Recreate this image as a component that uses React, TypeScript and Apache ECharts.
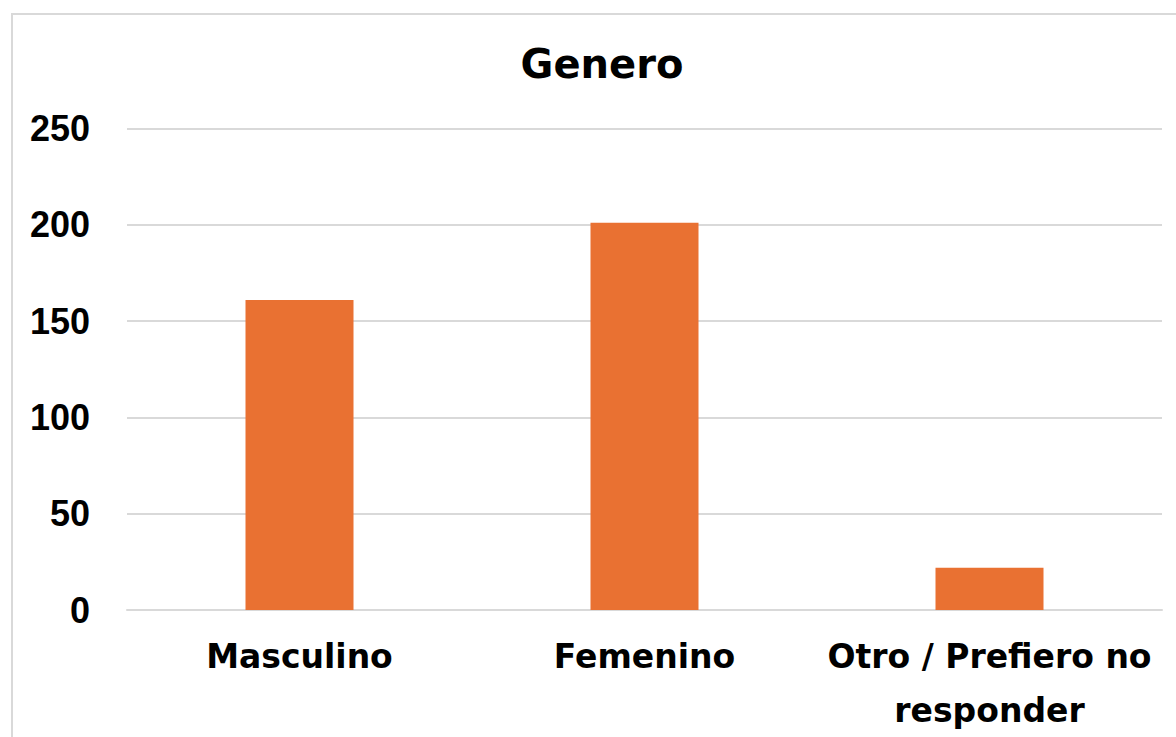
import React, { useEffect, useRef } from "react";
import * as echarts from "echarts";

const categories = ["Masculino", "Femenino", "Otro / Prefiero no responder"];
const values = [161, 201, 22];
const yTicks = [0, 50, 100, 150, 200, 250];
const chartTitle = "Genero";

function wrap(s: string, max: number): string {
  const words = s.split(" ");
  const lines: string[] = [];
  let cur = "";
  for (const w of words) {
    const next = cur ? cur + " " + w : w;
    if (next.length > max && cur) {
      lines.push(cur);
      cur = w;
    } else cur = next;
  }
  if (cur) lines.push(cur);
  return lines.join("\n");
}

export default function App() {
  const ref = useRef<HTMLDivElement>(null);
  useEffect(() => {
    if (!ref.current) return;
    const chart = echarts.init(ref.current, undefined, { renderer: "svg" });
    chart.setOption({
      animation: false,
      backgroundColor: "#ffffff",
      title: {
        text: chartTitle,
        left: 597,
        top: 39,
        textAlign: "center",
        textStyle: {
          fontFamily: "DejaVu Sans",
          fontWeight: "bold",
          fontSize: 40,
          color: "#000000",
        },
      },
      graphic: [
        {
          type: "rect",
          shape: { x: 12, y: 14, width: 1200, height: 800 },
          style: { fill: "none", stroke: "#d9d9d9", lineWidth: 2 },
          silent: true,
        },
      ],
      grid: { left: 127, right: 14, top: 128.5, bottom: 125, containLabel: false },
      xAxis: {
        type: "category",
        data: categories,
        axisLine: { show: true, lineStyle: { color: "#d9d9d9", width: 2 } },
        axisTick: { show: false },
        axisLabel: {
          interval: 0,
          margin: 19,
          fontFamily: "DejaVu Sans",
          fontWeight: "bold",
          fontSize: 33,
          lineHeight: 54,
          color: "#000000",
          formatter: (v: string) => wrap(v, 20),
        },
      },
      yAxis: {
        type: "value",
        min: yTicks[0],
        max: yTicks[yTicks.length - 1],
        interval: 50,
        axisLine: { show: false },
        axisTick: { show: false },
        splitLine: { lineStyle: { color: "#d9d9d9", width: 2 } },
        axisLabel: {
          margin: 37,
          fontFamily: "Liberation Sans",
          fontWeight: "bold",
          fontSize: 36,
          color: "#000000",
        },
      },
      series: [
        {
          type: "bar",
          data: values,
          barWidth: 108,
          itemStyle: { color: "#E97132" },
        },
      ],
    });
    return () => chart.dispose();
  }, []);
  return (
    <div
      ref={ref}
      style={{ position: "fixed", left: 0, top: 0, width: 1176, height: 737 }}
    />
  );
}
